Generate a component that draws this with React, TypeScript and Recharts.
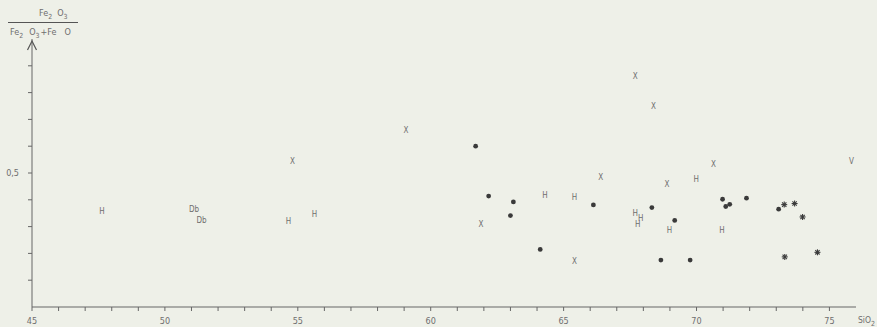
import React from 'react';
import { ScatterChart, Scatter, XAxis, YAxis, ReferenceDot } from 'recharts';

// Axis ticks
const xTicks = [45, 46, 47, 48, 49, 50, 51, 52, 53, 54, 55, 56, 57, 58, 59, 60, 61, 62, 63, 64, 65, 66, 67, 68, 69, 70, 71, 72, 73, 74, 75];
const xLabeledTicks = [45, 50, 55, 60, 65, 70, 75];
const yTicks = [0.1, 0.2, 0.3, 0.4, 0.5, 0.6, 0.7, 0.8, 0.9];
const yLabeledTicks = [0.5];
const yTickText = ['0,5'];

// Series "H"
const hSiO2 = [47.63, 54.65, 55.63, 64.3, 65.41, 67.69, 67.9, 67.79, 68.98, 69.99, 70.96];
const hRatio = [0.358, 0.321, 0.348, 0.419, 0.41, 0.351, 0.332, 0.311, 0.286, 0.479, 0.286];

// Series "Db"
const dbSiO2 = [51.1, 51.38];
const dbRatio = [0.367, 0.326];

// Series "X"
const xSiO2 = [54.8, 59.07, 61.89, 67.69, 68.38, 70.64, 66.4, 68.89, 65.41];
const xRatio = [0.545, 0.66, 0.311, 0.861, 0.751, 0.535, 0.483, 0.46, 0.173];

// Series "V"
const vSiO2 = [75.83];
const vRatio = [0.545];

// Series dots
const dotSiO2 = [61.69, 62.18, 63.11, 63.0, 64.12, 66.12, 68.32, 69.18, 70.98, 71.25, 71.1, 71.88, 73.09, 68.66, 69.76];
const dotRatio = [0.6, 0.414, 0.392, 0.341, 0.215, 0.381, 0.371, 0.323, 0.402, 0.383, 0.375, 0.406, 0.365, 0.175, 0.175];

// Series asterisks
const starSiO2 = [73.3, 73.69, 73.99, 73.32, 74.55];
const starRatio = [0.382, 0.386, 0.336, 0.187, 0.204];

const zip = (xs: number[], ys: number[]) => xs.map((x, i) => ({ x, y: ys[i] }));

const FONT = '"DejaVu Sans Condensed", "Liberation Sans Narrow", "DejaVu Sans", sans-serif';
const GREY = '#6e6e6e';
const DARK = '#3a3a3a';

const letterShape = (label: string) => (props: any) => {
  const { cx, cy } = props;
  if (cx == null || cy == null) return <g />;
  return (
    <text x={cx} y={cy} dy="0.36em" textAnchor="middle" fontSize={8} fontFamily={FONT} fill={GREY}>
      {label}
    </text>
  );
};

const dotShape = (props: any) => {
  const { cx, cy } = props;
  if (cx == null || cy == null) return <g />;
  return <circle cx={cx} cy={cy} r={2.4} fill={DARK} />;
};

const starShape = (props: any) => {
  const { cx, cy } = props;
  if (cx == null || cy == null) return <g />;
  const r = 3;
  const d = r * 0.72;
  return (
    <g stroke={DARK} strokeWidth={1.1}>
      <line x1={cx - r} y1={cy} x2={cx + r} y2={cy} />
      <line x1={cx} y1={cy - r} x2={cx} y2={cy + r} />
      <line x1={cx - d} y1={cy - d} x2={cx + d} y2={cy + d} />
      <line x1={cx - d} y1={cy + d} x2={cx + d} y2={cy - d} />
    </g>
  );
};

const arrowShape = (props: any) => {
  const { cx, cy } = props;
  if (cx == null || cy == null) return <g />;
  return (
    <polyline
      points={`${cx - 4.5},${cy + 11} ${cx},${cy + 2} ${cx + 4.5},${cy + 11}`}
      fill="none"
      stroke="#555"
      strokeWidth={1.2}
    />
  );
};

const xTickFormat = (v: number) => (xLabeledTicks.includes(v) ? String(v) : '');
const yTickFormat = (v: number) => {
  const i = yLabeledTicks.findIndex((t) => Math.abs(t - v) < 1e-9);
  return i >= 0 ? yTickText[i] : '';
};

export default function App() {
  return (
    <div style={{ position: 'absolute', left: 0, top: 0, width: 877, height: 327, background: '#eef0e8' }}>
      <ScatterChart width={877} height={327} margin={{ top: 39, right: 21, left: 0, bottom: 0 }}>
        <XAxis
          type="number"
          dataKey="x"
          domain={[45, 76]}
          ticks={xTicks}
          interval={0}
          allowDataOverflow
          height={20}
          tickSize={4}
          tickMargin={7}
          tickFormatter={xTickFormat}
          stroke="#666"
          tick={{ fill: GREY, fontSize: 9, fontFamily: FONT }}
          tickLine={{ stroke: '#666' }}
        />
        <YAxis
          type="number"
          dataKey="y"
          domain={[0, 1]}
          ticks={yTicks}
          interval={0}
          allowDataOverflow
          width={32}
          tickSize={4}
          tickMargin={9}
          tickFormatter={yTickFormat}
          stroke="#666"
          tick={{ fill: GREY, fontSize: 9, fontFamily: FONT }}
          tickLine={{ stroke: '#666' }}
        />
        <ReferenceDot x={45} y={1} ifOverflow="visible" shape={arrowShape} />
        <Scatter name="H" data={zip(hSiO2, hRatio)} shape={letterShape('H')} isAnimationActive={false} />
        <Scatter name="Db" data={zip(dbSiO2, dbRatio)} shape={letterShape('Db')} isAnimationActive={false} />
        <Scatter name="X" data={zip(xSiO2, xRatio)} shape={letterShape('X')} isAnimationActive={false} />
        <Scatter name="V" data={zip(vSiO2, vRatio)} shape={letterShape('V')} isAnimationActive={false} />
        <Scatter name="dots" data={zip(dotSiO2, dotRatio)} shape={dotShape} isAnimationActive={false} />
        <Scatter name="stars" data={zip(starSiO2, starRatio)} shape={starShape} isAnimationActive={false} />
      </ScatterChart>
      <svg
        width={877}
        height={327}
        style={{ position: 'absolute', left: 0, top: 0, pointerEvents: 'none' }}
      >
        <g fontFamily={FONT} fill={GREY} fontSize={9}>
          <text x={39} y={16}>
            Fe<tspan fontSize={7} dy={3}>2</tspan>
            <tspan dy={-3} dx={5}>O</tspan>
            <tspan fontSize={7} dy={3}>3</tspan>
          </text>
          <line x1={8} y1={22.5} x2={78} y2={22.5} stroke="#555" strokeWidth={1} />
          <text x={10} y={35}>
            Fe<tspan fontSize={7} dy={3}>2</tspan>
            <tspan dy={-3} dx={6}>O</tspan>
            <tspan fontSize={7} dy={3}>3</tspan>
            <tspan dy={-3} dx={1}>+Fe</tspan>
            <tspan dx={8}>O</tspan>
          </text>
          <text x={858} y={323} fontSize={8.5}>
            SiO<tspan fontSize={7} dy={3}>2</tspan>
          </text>
        </g>
      </svg>
    </div>
  );
}
